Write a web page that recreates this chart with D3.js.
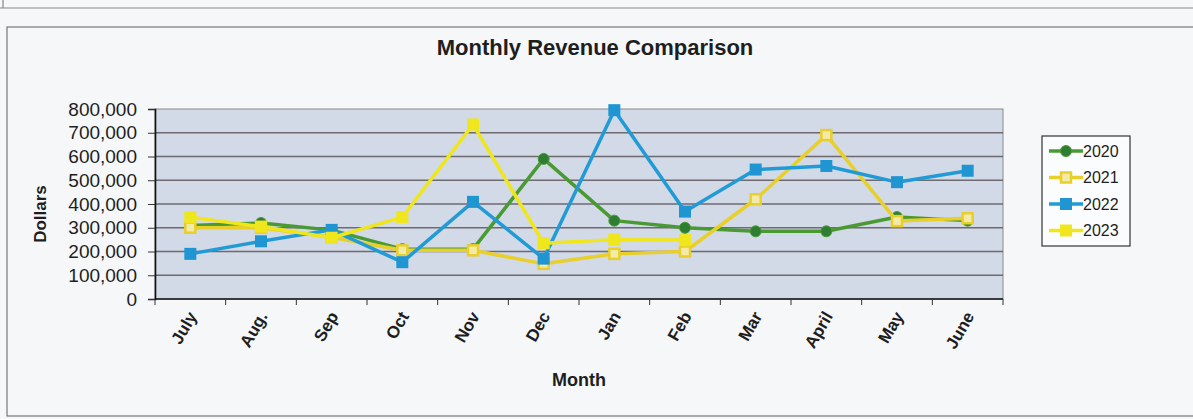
<!DOCTYPE html>
<html>
<head>
<meta charset="utf-8">
<script src="https://cdn.jsdelivr.net/npm/d3@7"></script>
<style>
  body { margin: 0; background: #f5f7f9; }
  text { font-family: "Liberation Sans", Arial, sans-serif; fill: #1e1e1e; }
</style>
</head>
<body>
<div id="chart"></div>
<script>
// fiscal-year months, July -> June
var months = ["July", "Aug.", "Sep", "Oct", "Nov", "Dec", "Jan", "Feb", "Mar", "April", "May", "June"];
var years = ["2020", "2021", "2022", "2023"];
var rev2020 = [310000, 320000, 290000, 210000, 210000, 590000, 330000, 300000, 285000, 285000, 345000, 330000];
var rev2021 = [300000, 300000, 260000, 205000, 205000, 148000, 190000, 200000, 420000, 690000, 328000, 340000];
var rev2022 = [190000, 243000, 291000, 155000, 409000, 170000, 795000, 368000, 545000, 560000, 492000, 540000];
var rev2023 = [344000, 305000, 258000, 345000, 735000, 235000, 250000, 248000, null, null, null, null];
var yTicks = [0, 100000, 200000, 300000, 400000, 500000, 600000, 700000, 800000];

var width = 1193, height = 419;
var plotLeft = 155, plotRight = 1003, plotTop = 109, plotBottom = 299;

var svg = d3.select("#chart").append("svg")
    .attr("width", width)
    .attr("height", height);

// page frame lines from the scan
svg.append("line").attr("x1", 0).attr("x2", width).attr("y1", 8).attr("y2", 8)
    .style("stroke", "#888").style("stroke-width", 1.2);
svg.append("line").attr("x1", 3).attr("x2", 3).attr("y1", 0).attr("y2", 8)
    .style("stroke", "#888").style("stroke-width", 1.2);
svg.append("rect").attr("x", 7).attr("y", 27).attr("width", width).attr("height", 389)
    .style("fill", "none").style("stroke", "#777").style("stroke-width", 1.2);

var x = d3.scaleBand().domain(months).range([plotLeft, plotRight]);
var y = d3.scaleLinear().domain([0, 800000]).range([plotBottom, plotTop]);

var series = [
    {name: years[0], values: rev2020, color: "#4a9a34", marker: "circle", fill: "#2f7d32"},
    {name: years[1], values: rev2021, color: "#e9cf2a", marker: "open", fill: "#f3eaa8"},
    {name: years[2], values: rev2022, color: "#219bd6", marker: "square", fill: "#1f95d2"},
    {name: years[3], values: rev2023, color: "#efe61c", marker: "square", fill: "#efe61c"}
];

// plot area
svg.append("rect")
    .attr("x", plotLeft).attr("y", plotTop)
    .attr("width", plotRight - plotLeft).attr("height", plotBottom - plotTop)
    .style("fill", "#d2d9e7")
    .style("stroke", "#8a8a8a");

// grid
svg.append("g").selectAll("line")
    .data(yTicks.slice(1, -1))
    .join("line")
    .attr("x1", plotLeft).attr("x2", plotRight)
    .attr("y1", d => y(d)).attr("y2", d => y(d))
    .style("stroke", "#6e6a70")
    .style("stroke-width", 1.3);

// y axis
var yAxis = svg.append("g")
    .attr("transform", "translate(" + plotLeft + ",0)")
    .call(d3.axisLeft(y).tickValues(yTicks).tickFormat(d3.format(",")).tickSize(7).tickPadding(11));
yAxis.select(".domain").style("stroke", "#111").style("stroke-width", 1.6);
yAxis.selectAll(".tick line").style("stroke", "#333");
yAxis.selectAll("text").style("font-size", "19px").style("fill", "#1e1e1e")
    .style("font-family", "Liberation Sans, Arial, sans-serif");

// x axis: ticks sit between categories
var xAxis = svg.append("g").attr("transform", "translate(0," + plotBottom + ")");
xAxis.append("line").attr("x1", plotLeft).attr("x2", plotRight)
    .style("stroke", "#111").style("stroke-width", 1.6);
xAxis.selectAll(".xt")
    .data(months)
    .join("line")
    .attr("class", "xt")
    .attr("x1", d => x(d) + x.bandwidth()).attr("x2", d => x(d) + x.bandwidth())
    .attr("y1", 0).attr("y2", 6)
    .style("stroke", "#333");
xAxis.append("line").attr("x1", plotLeft).attr("x2", plotLeft).attr("y1", 0).attr("y2", 6).style("stroke", "#333");

xAxis.selectAll(".xl")
    .data(months)
    .join("text")
    .attr("class", "xl")
    .attr("text-anchor", "end")
    .attr("transform", d => "translate(" + (x(d) + x.bandwidth() / 2 + 2) + ",14) rotate(-60)")
    .attr("dy", "0.35em")
    .style("font-size", "17px")
    .style("font-weight", "bold")
    .text(d => d);

// titles
svg.append("text")
    .attr("x", 595).attr("y", 55)
    .attr("text-anchor", "middle")
    .style("font-size", "22px").style("font-weight", "bold")
    .text("Monthly Revenue Comparison");

svg.append("text")
    .attr("transform", "translate(46,214) rotate(-90)")
    .attr("text-anchor", "middle")
    .style("font-size", "17px").style("font-weight", "bold")
    .text("Dollars");

svg.append("text")
    .attr("x", 579).attr("y", 386)
    .attr("text-anchor", "middle")
    .style("font-size", "18px").style("font-weight", "bold")
    .text("Month");

// lines
var line = d3.line()
    .defined(d => d != null)
    .x((d, i) => x(months[i]) + x.bandwidth() / 2)
    .y(d => y(d));

function drawMarker(g, s, cx, cy) {
    if (s.marker === "circle") {
        g.append("circle").attr("cx", cx).attr("cy", cy).attr("r", 5.5)
            .style("fill", s.fill).style("stroke", s.color).style("stroke-width", 1);
    } else if (s.marker === "open") {
        g.append("rect").attr("x", cx - 5).attr("y", cy - 5).attr("width", 10).attr("height", 10)
            .style("fill", s.fill).style("stroke", s.color).style("stroke-width", 2.5);
    } else {
        g.append("rect").attr("x", cx - 6).attr("y", cy - 6).attr("width", 12).attr("height", 12)
            .style("fill", s.fill);
    }
}

series.forEach(function (s) {
    var g = svg.append("g");
    g.append("path")
        .datum(s.values)
        .attr("d", line)
        .style("fill", "none")
        .style("stroke", s.color)
        .style("stroke-width", 3.5)
        .style("stroke-linejoin", "round");
    s.values.forEach(function (v, i) {
        if (v == null) return;
        drawMarker(g, s, x(months[i]) + x.bandwidth() / 2, y(v));
    });
});

// legend
var legend = svg.append("g");
legend.append("rect")
    .attr("x", 1042).attr("y", 136).attr("width", 88).attr("height", 110)
    .style("fill", "#fbfcfd").style("stroke", "#333").style("stroke-width", 1.2);

series.forEach(function (s, i) {
    var ly = 151 + i * 26.5;
    legend.append("line")
        .attr("x1", 1049).attr("x2", 1083).attr("y1", ly).attr("y2", ly)
        .style("stroke", s.color).style("stroke-width", 3.5);
    drawMarker(legend, s, 1066, ly);
    legend.append("text")
        .attr("x", 1083).attr("y", ly).attr("dy", "0.36em")
        .style("font-size", "16px")
        .text(s.name);
});
</script>
</body>
</html>
